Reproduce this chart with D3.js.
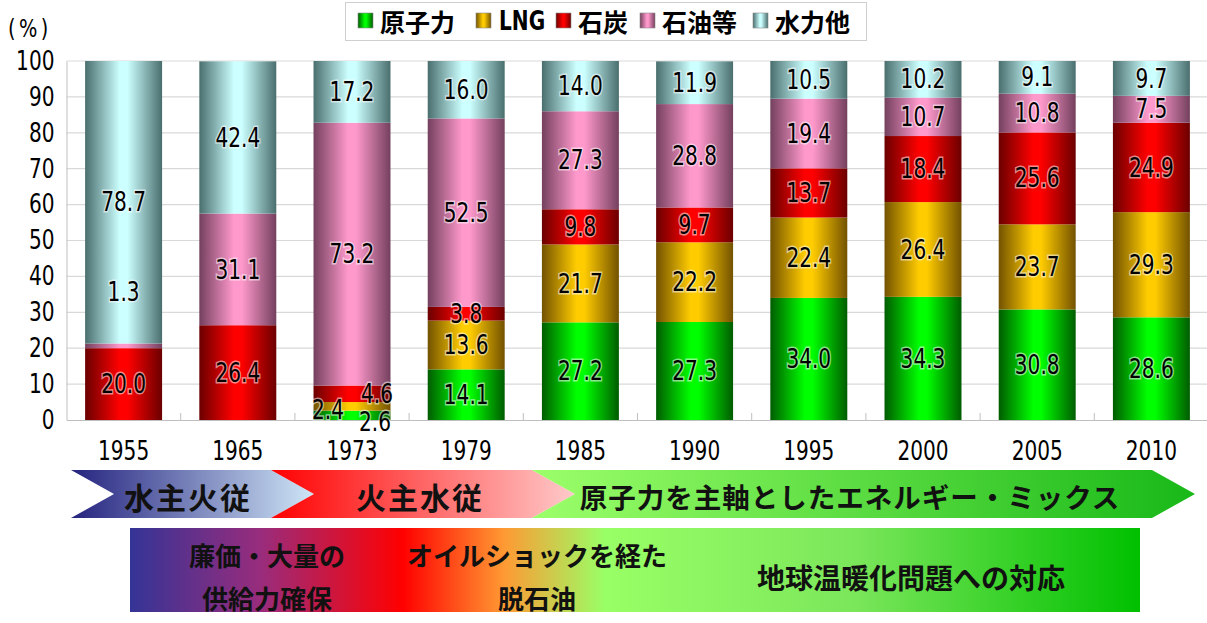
<!DOCTYPE html>
<html lang="ja">
<head>
<meta charset="utf-8">
<script src="https://cdn.jsdelivr.net/npm/d3@7"></script>
<style>
  html, body { margin: 0; padding: 0; background: #fff; }
  svg { display: block; }
  .num { font-family: "DejaVu Sans Condensed", "DejaVu Sans", "Liberation Sans", sans-serif; }
  .jp { font-family: "Noto Sans CJK JP", "Noto Sans", sans-serif; font-weight: 700; }
</style>
</head>
<body>
<svg id="chart" width="1207" height="623"></svg>
<script>
// 電源構成の推移（%）
const years = ["1955", "1965", "1973", "1979", "1985", "1990", "1995", "2000", "2005", "2010"];
const seriesNames = ["原子力", "LNG", "石炭", "石油等", "水力他"];
const nuclear = [0, 0, 2.6, 14.1, 27.2, 27.3, 34.0, 34.3, 30.8, 28.6];
const lng     = [0, 0, 2.4, 13.6, 21.7, 22.2, 22.4, 26.4, 23.7, 29.3];
const coal    = [20.0, 26.4, 4.6, 3.8, 9.8, 9.7, 13.7, 18.4, 25.6, 24.9];
const oil     = [1.3, 31.1, 73.2, 52.5, 27.3, 28.8, 19.4, 10.7, 10.8, 7.5];
const hydro   = [78.7, 42.4, 17.2, 16.0, 14.0, 11.9, 10.5, 10.2, 9.1, 9.7];
const yTicks  = [0, 10, 20, 30, 40, 50, 60, 70, 80, 90, 100];

// 時代区分（矢印と下段の帯）
const eras = ["水主火従", "火主水従", "原子力を主軸としたエネルギー・ミックス"];
const themes = [["廉価・大量の", "供給力確保"], ["オイルショックを経た", "脱石油"], ["地球温暖化問題への対応"]];

const seriesValues = [nuclear, lng, coal, oil, hydro];
const rows = years.map((yr, i) => {
  const r = { year: yr };
  seriesNames.forEach((s, k) => { r[s] = seriesValues[k][i]; });
  return r;
});

// edge / centre colours of the cylinder-like bar shading
const shades = {
  "原子力": ["#005c00", "#00ff00"],
  "LNG":   ["#735200", "#ffcc00"],
  "石炭":   ["#6b0000", "#ff0000"],
  "石油等": ["#74405e", "#ff99cc"],
  "水力他": ["#4a6e6e", "#ccffff"]
};

// narrow numerals: horizontally squeezed condensed face
const SQ = 0.86;
const NUM_SIZE = 26;

const svg = d3.select("#chart");
const defs = svg.append("defs");

seriesNames.forEach((s, k) => {
  const g = defs.append("linearGradient").attr("id", "grad" + k)
    .attr("x1", "0%").attr("x2", "100%").attr("y1", "0%").attr("y2", "0%");
  g.append("stop").attr("offset", "0%").attr("stop-color", shades[s][0]);
  g.append("stop").attr("offset", "45%").attr("stop-color", shades[s][1]);
  g.append("stop").attr("offset", "55%").attr("stop-color", shades[s][1]);
  g.append("stop").attr("offset", "100%").attr("stop-color", shades[s][0]);
});

const x = d3.scaleBand().domain(years).range([66.5, 1208.5]).paddingInner(0.326).paddingOuter(0.163);
const y = d3.scaleLinear().domain([0, 100]).range([420, 61]);

// gridlines
svg.append("g").selectAll("line").data(yTicks.filter(t => t > 0)).join("line")
  .attr("x1", 66.5).attr("x2", 1207).attr("y1", d => y(d)).attr("y2", d => y(d))
  .attr("stroke", "#d9d9d9").attr("stroke-width", 1.2);

// y axis
const yAxis = svg.append("g").attr("transform", "translate(66.5,0)")
  .call(d3.axisLeft(y).tickValues(yTicks).tickSize(0).tickPadding(14));
yAxis.select(".domain").attr("stroke", "#bfbfbf");
yAxis.selectAll("text").attr("class", "num").attr("font-size", NUM_SIZE).attr("fill", "#000")
  .attr("transform", `scale(${SQ},1)`);

svg.append("text").attr("class", "num").attr("x", 8 / SQ).attr("y", 28)
  .attr("transform", `scale(${SQ},1)`)
  .attr("dominant-baseline", "central").attr("letter-spacing", 4)
  .attr("font-size", 25).text("(%)");

// x axis
const xAxis = svg.append("g").attr("transform", "translate(0,420)")
  .call(d3.axisBottom(x).tickSize(0).tickPadding(22));
xAxis.select(".domain").attr("stroke", "#bfbfbf");
xAxis.selectAll("text").attr("class", "num").attr("font-size", NUM_SIZE).attr("fill", "#000")
  .attr("transform", `scale(${SQ},1)`);
// category separators
svg.append("g").selectAll("line").data(years.slice(0, -1)).join("line")
  .attr("x1", d => x(d) + x.bandwidth() + x.step() * 0.163)
  .attr("x2", d => x(d) + x.bandwidth() + x.step() * 0.163)
  .attr("y1", 420).attr("y2", 413).attr("stroke", "#bfbfbf");

// stacked bars
const stacked = d3.stack().keys(seriesNames)(rows);
const layers = svg.append("g").selectAll("g").data(stacked).join("g")
  .attr("fill", (d, k) => `url(#grad${k})`);
layers.selectAll("rect").data(d => d.filter(p => p[1] - p[0] > 0)).join("rect")
  .attr("x", p => x(p.data.year)).attr("width", x.bandwidth())
  .attr("y", p => y(p[1])).attr("height", p => y(p[0]) - y(p[1]));

// value labels; a few thin segments get their label moved aside
const labelShift = {
  "1955|石油等": p => ({ dx: 0, cy: y(p[1]) - 52 }),
  "1973|原子力": p => ({ dx: 23, cy: y(0) + 2 }),
  "1973|LNG":   p => ({ dx: -24, cy: y((p[0] + p[1]) / 2) + 4 }),
  "1973|石炭":   p => ({ dx: 25, cy: y((p[0] + p[1]) / 2) }),
};
const labels = [];
stacked.forEach(layer => {
  layer.forEach(p => {
    const v = p[1] - p[0];
    if (v <= 0) return;
    const key = p.data.year + "|" + layer.key;
    const pos = labelShift[key] ? labelShift[key](p) : { dx: 0, cy: y((p[0] + p[1]) / 2) };
    labels.push({ x: x(p.data.year) + x.bandwidth() / 2 + pos.dx, y: pos.cy, t: d3.format(".1f")(v) });
  });
});
svg.append("g").selectAll("text").data(labels).join("text")
  .attr("class", "num").attr("font-size", NUM_SIZE).attr("text-anchor", "middle")
  .attr("dominant-baseline", "central")
  .attr("transform", `scale(${SQ},1)`)
  .attr("x", d => d.x / SQ).attr("y", d => d.y)
  .attr("stroke", "rgba(255,255,255,0.55)").attr("stroke-width", 3).attr("paint-order", "stroke")
  .attr("fill", "#000").text(d => d.t);

// legend
const legend = svg.append("g");
legend.append("rect").attr("x", 345.5).attr("y", 2.5).attr("width", 521).attr("height", 38)
  .attr("fill", "#fff").attr("stroke", "#cfcfcf");
const legendX = [358, 476, 556, 640, 753];
seriesNames.forEach((s, k) => {
  legend.append("rect").attr("x", legendX[k]).attr("y", 13).attr("width", 15).attr("height", 15)
    .attr("fill", `url(#grad${k})`).attr("stroke", "#8a8a8a").attr("stroke-width", 0.6);
  const t = legend.append("text").attr("y", 21).attr("dominant-baseline", "central").text(s);
  if (s === "LNG") {
    t.attr("class", "num").attr("font-size", NUM_SIZE).attr("font-weight", 700)
      .attr("transform", `scale(${SQ},1)`).attr("x", (legendX[k] + 23) / SQ);
  } else {
    t.attr("class", "jp").attr("font-size", 25).attr("x", legendX[k] + 22);
  }
});

// era arrows
const arrowGrad = [["#25237f", "#cfe6f7"], ["#ff0000", "#ffcaca"], ["#9cff6a", "#18b818"]];
arrowGrad.forEach((c, i) => {
  const g = defs.append("linearGradient").attr("id", "arrow" + i);
  g.append("stop").attr("offset", "0%").attr("stop-color", c[0]);
  g.append("stop").attr("offset", "100%").attr("stop-color", c[1]);
});
const arrowTop = 470, arrowBot = 518, arrowMid = (arrowTop + arrowBot) / 2;
const arrowSpan = [[71, 271], [271, 532], [532, 1152]];
const depth = 43;
const line = d3.line();
arrowSpan.forEach((s, i) => {
  const pts = [[s[0], arrowTop], [s[1], arrowTop], [s[1] + depth, arrowMid], [s[1], arrowBot], [s[0], arrowBot], [s[0] + depth, arrowMid]];
  svg.append("path").attr("d", line(pts) + "Z").attr("fill", `url(#arrow${i})`);
});
const eraText = [
  { cx: 188, size: 30, ls: 2 },
  { cx: 420, size: 30, ls: 2 },
  { cx: 850, size: 27.5, ls: 1 }
];
eras.forEach((t, i) => {
  svg.append("text").attr("class", "jp").attr("x", eraText[i].cx).attr("y", arrowMid + 2)
    .attr("text-anchor", "middle").attr("dominant-baseline", "central")
    .attr("font-size", eraText[i].size).attr("letter-spacing", eraText[i].ls)
    .attr("fill", "#111").text(t);
});

// lower band
const band = defs.append("linearGradient").attr("id", "band");
[["0%", "#343496"], ["13%", "#992c7c"], ["27%", "#ff0000"], ["37%", "#ff9933"], ["47%", "#99ff66"], ["72%", "#7ae65a"], ["100%", "#00c000"]]
  .forEach(s => band.append("stop").attr("offset", s[0]).attr("stop-color", s[1]));
svg.append("rect").attr("x", 130).attr("y", 528).attr("width", 1010).attr("height", 84)
  .attr("fill", "url(#band)");
const themeText = [
  { cx: 267, rows: [554, 597], size: 26 },
  { cx: 537, rows: [554, 597], size: 26 },
  { cx: 911, rows: [577], size: 28 }
];
themes.forEach((lines, i) => {
  lines.forEach((t, j) => {
    svg.append("text").attr("class", "jp").attr("x", themeText[i].cx).attr("y", themeText[i].rows[j])
      .attr("text-anchor", "middle").attr("dominant-baseline", "central")
      .attr("font-size", themeText[i].size).attr("fill", "#111").text(t);
  });
});
</script>
</body>
</html>
